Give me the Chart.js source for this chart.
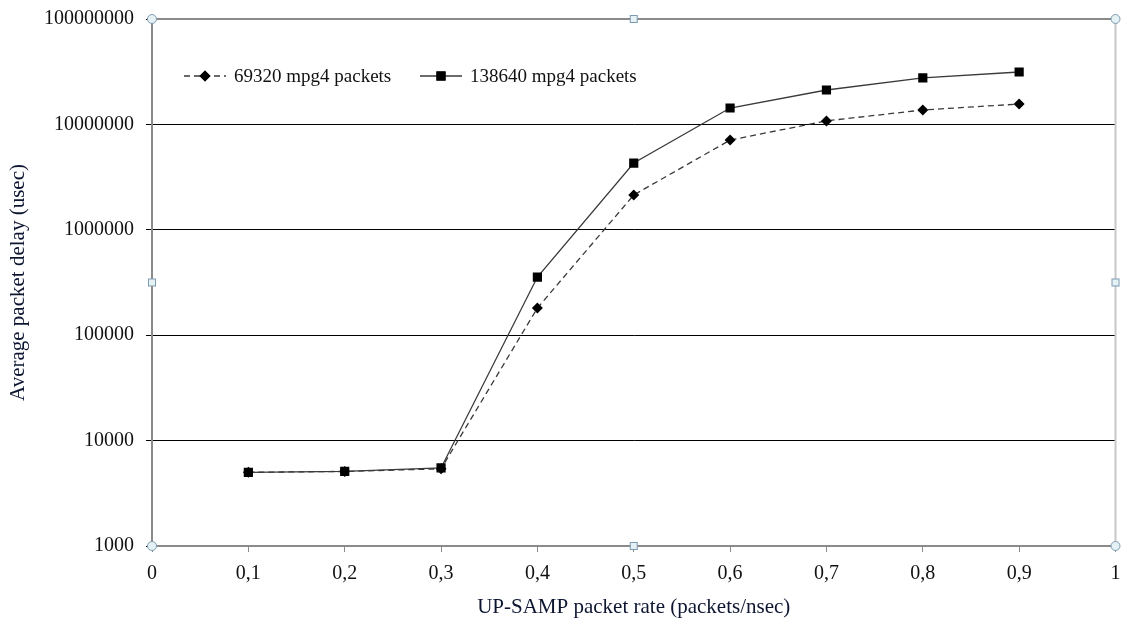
<!DOCTYPE html>
<html>
<head>
  <meta charset="UTF-8">
  <title>Average packet delay</title>
  <script src="https://cdn.jsdelivr.net/npm/chart.js"></script>
  <style>
    body {
      margin: 0;
      background: #fff;
    }
  </style>
</head>
<body>
  <canvas id="delayChart" width="1122" height="620"></canvas>

  <script>
    // values
    const rates = [0.1, 0.2, 0.3, 0.4, 0.5, 0.6, 0.7, 0.8, 0.9];
    const delay69320 = [5000, 5100, 5400, 181000, 2140000, 7100000, 10800000, 13700000, 15600000];
    const delay138640 = [5000, 5100, 5500, 356000, 4300000, 14300000, 21200000, 27600000, 31400000];
    const yTicks = [1000, 10000, 100000, 1000000, 10000000, 100000000];
    const seriesNames = ['69320 mpg4 packets', '138640 mpg4 packets'];

    const serif = '"Liberation Serif", "Times New Roman", serif';
    const textColor = '#111';
    const titleColor = '#0d1530';

    const points = (vals) => rates.map((x, i) => ({ x: x, y: vals[i] }));

    // Excel-like selection handles, top/right frame and in-plot legend
    const decor = {
      id: 'decor',
      afterDraw(chart) {
        const ctx = chart.ctx;
        const a = chart.chartArea;
        ctx.save();
        ctx.lineWidth = 2;
        ctx.strokeStyle = '#8a8a8a';
        ctx.beginPath();
        ctx.moveTo(a.left, a.top);
        ctx.lineTo(a.right, a.top);
        ctx.stroke();
        ctx.strokeStyle = '#c8c8c8';
        ctx.beginPath();
        ctx.moveTo(a.right, a.top);
        ctx.lineTo(a.right, a.bottom);
        ctx.stroke();

        // legend
        ctx.font = '19px ' + serif;
        ctx.fillStyle = textColor;
        ctx.textBaseline = 'middle';
        const ly = 76;
        const items = [
          { x: 184, ds: chart.data.datasets[1] },
          { x: 420, ds: chart.data.datasets[0] }
        ];
        for (const it of items) {
          ctx.strokeStyle = it.ds.borderColor;
          ctx.lineWidth = 1.3;
          ctx.setLineDash(it.ds.borderDash || []);
          ctx.beginPath();
          ctx.moveTo(it.x, ly);
          ctx.lineTo(it.x + 42, ly);
          ctx.stroke();
          ctx.setLineDash([]);
          Chart.helpers.drawPoint(ctx, {
            pointStyle: it.ds.pointStyle,
            radius: it.ds.pointRadius,
            borderWidth: 0
          }, it.x + 21, ly);
          ctx.fillStyle = '#000';
          ctx.fill();
          ctx.fillStyle = textColor;
          ctx.fillText(it.ds.label, it.x + 50, ly + 1);
        }

        // handles
        const midX = (a.left + a.right) / 2;
        const midY = (a.top + a.bottom) / 2;
        ctx.lineWidth = 1;
        ctx.strokeStyle = '#7f9bb0';
        ctx.fillStyle = '#e4f1f5';
        for (const [x, y] of [[a.left, a.top], [a.right, a.top], [a.left, a.bottom], [a.right, a.bottom]]) {
          ctx.beginPath();
          ctx.arc(x, y, 4.5, 0, Math.PI * 2);
          ctx.fill();
          ctx.stroke();
        }
        for (const [x, y] of [[midX, a.top], [midX, a.bottom], [a.left, midY], [a.right, midY]]) {
          ctx.fillRect(x - 3.5, y - 3.5, 7, 7);
          ctx.strokeRect(x - 3.5, y - 3.5, 7, 7);
        }
        ctx.restore();
      }
    };

    new Chart(document.getElementById('delayChart'), {
      type: 'line',
      data: {
        datasets: [
          {
            label: seriesNames[1],
            data: points(delay138640),
            borderColor: '#3a3a3a',
            borderWidth: 1.3,
            pointStyle: 'rect',
            pointRadius: 6.5,
            pointBackgroundColor: '#000',
            pointBorderWidth: 0,
            order: 0
          },
          {
            label: seriesNames[0],
            data: points(delay69320),
            borderColor: '#3a3a3a',
            borderWidth: 1.3,
            borderDash: [6, 4],
            pointStyle: 'rectRot',
            pointRadius: 5.5,
            pointBackgroundColor: '#000',
            pointBorderWidth: 0,
            order: 1
          }
        ]
      },
      options: {
        responsive: false,
        animation: false,
        layout: { padding: { top: 19, right: 6, left: 0, bottom: 0 } },
        plugins: {
          legend: { display: false },
          tooltip: { enabled: false }
        },
        scales: {
          x: {
            type: 'linear',
            min: 0,
            max: 1,
            ticks: {
              stepSize: 0.1,
              padding: 10,
              color: textColor,
              font: { family: serif, size: 20 },
              callback: (v) => {
                const r = Math.round(v * 10) / 10;
                return (r === 0 || r === 1) ? String(r) : r.toFixed(1).replace('.', ',');
              }
            },
            grid: {
              drawOnChartArea: false,
              drawTicks: true,
              tickLength: 6,
              tickColor: '#8a8a8a'
            },
            border: { color: '#8a8a8a', width: 2 },
            title: {
              display: true,
              text: 'UP-SAMP packet rate (packets/nsec)',
              color: titleColor,
              font: { family: serif, size: 21 },
              padding: { top: 8, bottom: 0 }
            },
            afterFit: (s) => {
              s.height = 74;
              s.paddingLeft = 0;
              s.paddingRight = 0;
            }
          },
          y: {
            type: 'logarithmic',
            min: 1000,
            max: 100000000,
            afterBuildTicks: (s) => { s.ticks = yTicks.map(v => ({ value: v })); },
            ticks: {
              padding: 12,
              color: textColor,
              font: { family: serif, size: 20 },
              callback: (v) => String(v)
            },
            grid: {
              color: (c) => (c.tick && c.tick.value === 100000000) ? 'rgba(0,0,0,0)' : '#000',
              lineWidth: 1,
              tickLength: 6,
              tickColor: '#000'
            },
            border: { color: '#8a8a8a', width: 2 },
            title: {
              display: true,
              text: 'Average packet delay (usec)',
              color: titleColor,
              font: { family: serif, size: 21 },
              padding: { top: 6, bottom: 0 }
            },
            afterFit: (s) => {
              s.width = 152;
              s.paddingTop = 0;
              s.paddingBottom = 0;
            }
          }
        }
      },
      plugins: [decor]
    });
  </script>
</body>
</html>
